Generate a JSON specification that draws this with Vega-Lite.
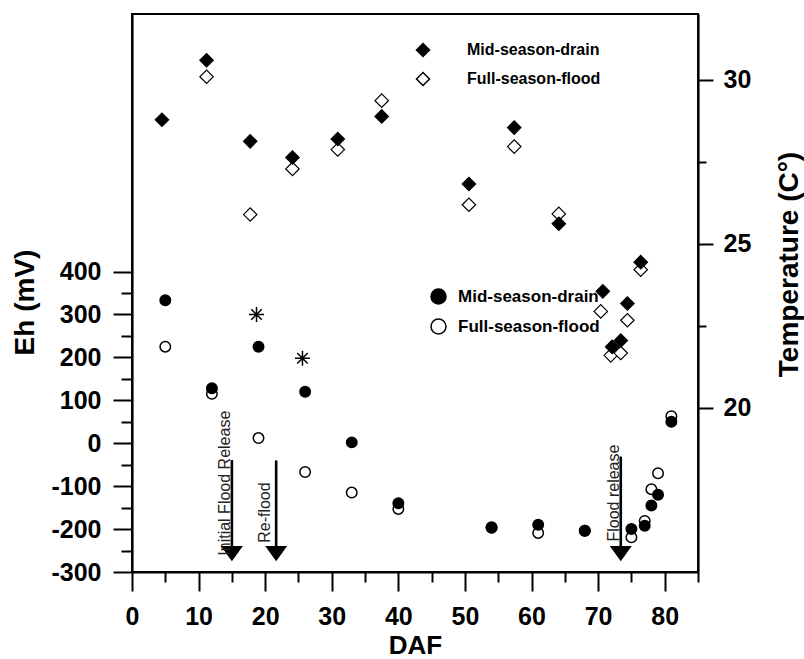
{
  "$schema": "https://vega.github.io/schema/vega-lite/v6.json",
  "width": 566,
  "height": 558,
  "autosize": {"type": "none"},
  "padding": {"left": 132, "top": 14, "right": 106, "bottom": 87},
  "background": "white",
  "config": {
    "view": {"stroke": "black", "strokeWidth": 2},
    "font": "Liberation Sans",
    "axis": {
      "domainColor": "black", "domainWidth": 2.2, "tickColor": "black", "tickWidth": 2,
      "labelFont": "Liberation Sans", "labelFontWeight": "bold", "labelFontSize": 25, "labelColor": "black",
      "titleFont": "Liberation Sans", "titleFontWeight": "bold", "titleFontSize": 28, "titleColor": "black",
      "grid": false, "labelOverlap": false, "labelFlush": false
    },
    "legend": {
      "labelFont": "Liberation Sans", "labelFontWeight": "bold", "labelColor": "black",
      "padding": 0, "rowPadding": 9, "symbolStrokeColor": "black", "symbolStrokeWidth": 1.5, "symbolOpacity": 1
    }
  },
  "datasets": {
    "eh": [
      {"DAF": 5, "Eh": 225, "series": "Full-season-flood"},
      {"DAF": 12, "Eh": 115, "series": "Full-season-flood"},
      {"DAF": 19, "Eh": 12, "series": "Full-season-flood"},
      {"DAF": 26, "Eh": -67, "series": "Full-season-flood"},
      {"DAF": 33, "Eh": -115, "series": "Full-season-flood"},
      {"DAF": 40, "Eh": -153, "series": "Full-season-flood"},
      {"DAF": 54, "Eh": -197, "series": "Full-season-flood"},
      {"DAF": 61, "Eh": -209, "series": "Full-season-flood"},
      {"DAF": 68, "Eh": -204, "series": "Full-season-flood"},
      {"DAF": 75, "Eh": -219, "series": "Full-season-flood"},
      {"DAF": 77, "Eh": -181, "series": "Full-season-flood"},
      {"DAF": 78, "Eh": -107, "series": "Full-season-flood"},
      {"DAF": 79, "Eh": -70, "series": "Full-season-flood"},
      {"DAF": 81, "Eh": 63, "series": "Full-season-flood"},
      {"DAF": 5, "Eh": 333, "series": "Mid-season-drain"},
      {"DAF": 12, "Eh": 128, "series": "Mid-season-drain"},
      {"DAF": 19, "Eh": 225, "series": "Mid-season-drain"},
      {"DAF": 26, "Eh": 120, "series": "Mid-season-drain"},
      {"DAF": 33, "Eh": 2, "series": "Mid-season-drain"},
      {"DAF": 40, "Eh": -140, "series": "Mid-season-drain"},
      {"DAF": 54, "Eh": -196, "series": "Mid-season-drain"},
      {"DAF": 61, "Eh": -190, "series": "Mid-season-drain"},
      {"DAF": 68, "Eh": -204, "series": "Mid-season-drain"},
      {"DAF": 75, "Eh": -200, "series": "Mid-season-drain"},
      {"DAF": 77, "Eh": -192, "series": "Mid-season-drain"},
      {"DAF": 78, "Eh": -145, "series": "Mid-season-drain"},
      {"DAF": 79, "Eh": -120, "series": "Mid-season-drain"},
      {"DAF": 81, "Eh": 50, "series": "Mid-season-drain"}
    ],
    "stars": [
      {"DAF": 18.7, "Eh": 300},
      {"DAF": 25.6, "Eh": 198}
    ],
    "shafts": [
      {"DAF": 15, "Eh": -39, "Eh2": -245},
      {"DAF": 21.65, "Eh": -40, "Eh2": -245},
      {"DAF": 73.4, "Eh": -31, "Eh2": -245}
    ],
    "heads": [
      {"DAF": 15, "Eh": -257},
      {"DAF": 21.65, "Eh": -257},
      {"DAF": 73.4, "Eh": -257}
    ],
    "notes": [
      {"DAF": 14.65, "Eh": -262, "label": "Initial Flood Release"},
      {"DAF": 20.75, "Eh": -232, "label": "Re-flood"},
      {"DAF": 73.15, "Eh": -229, "label": "Flood release"}
    ],
    "temp": [
      {"DAF": 11.2, "Temp": 30.09, "series": "Full-season-flood"},
      {"DAF": 17.75, "Temp": 25.89, "series": "Full-season-flood"},
      {"DAF": 24.1, "Temp": 27.28, "series": "Full-season-flood"},
      {"DAF": 30.9, "Temp": 27.87, "series": "Full-season-flood"},
      {"DAF": 37.5, "Temp": 29.36, "series": "Full-season-flood"},
      {"DAF": 50.6, "Temp": 26.19, "series": "Full-season-flood"},
      {"DAF": 57.4, "Temp": 27.96, "series": "Full-season-flood"},
      {"DAF": 64.1, "Temp": 25.91, "series": "Full-season-flood"},
      {"DAF": 70.4, "Temp": 22.94, "series": "Full-season-flood"},
      {"DAF": 71.9, "Temp": 21.6, "series": "Full-season-flood"},
      {"DAF": 73.4, "Temp": 21.67, "series": "Full-season-flood"},
      {"DAF": 74.4, "Temp": 22.67, "series": "Full-season-flood"},
      {"DAF": 76.4, "Temp": 24.21, "series": "Full-season-flood"},
      {"DAF": 4.5, "Temp": 28.78, "series": "Mid-season-drain"},
      {"DAF": 11.2, "Temp": 30.59, "series": "Mid-season-drain"},
      {"DAF": 17.75, "Temp": 28.12, "series": "Mid-season-drain"},
      {"DAF": 24.1, "Temp": 27.63, "series": "Mid-season-drain"},
      {"DAF": 30.9, "Temp": 28.19, "series": "Mid-season-drain"},
      {"DAF": 37.5, "Temp": 28.88, "series": "Mid-season-drain"},
      {"DAF": 50.6, "Temp": 26.82, "series": "Mid-season-drain"},
      {"DAF": 57.4, "Temp": 28.54, "series": "Mid-season-drain"},
      {"DAF": 64.1, "Temp": 25.61, "series": "Mid-season-drain"},
      {"DAF": 70.7, "Temp": 23.55, "series": "Mid-season-drain"},
      {"DAF": 72.1, "Temp": 21.86, "series": "Mid-season-drain"},
      {"DAF": 73.4, "Temp": 22.05, "series": "Mid-season-drain"},
      {"DAF": 74.4, "Temp": 23.18, "series": "Mid-season-drain"},
      {"DAF": 76.4, "Temp": 24.44, "series": "Mid-season-drain"}
    ]
  },
  "encoding": {
    "x": {
      "field": "DAF", "type": "quantitative",
      "scale": {"domain": [0, 85], "nice": false, "zero": false},
      "axis": {
        "values": [0, 5, 10, 15, 20, 25, 30, 35, 40, 45, 50, 55, 60, 65, 70, 75, 80, 85],
        "labelExpr": "datum.value % 10 === 0 ? '' + datum.value : ''",
        "tickSize": 19,
        "tickDash": {"condition": {"test": "datum.value % 10 !== 0", "value": [10, 40]}, "value": []},
        "labelPadding": 13,
        "title": "DAF", "titleFontSize": 26, "titleX": 283, "titleY": 81, "titleBaseline": "alphabetic", "titleAlign": "center"
      }
    }
  },
  "layer": [
    {
      "encoding": {
        "y": {
          "field": "Eh", "type": "quantitative",
          "scale": {"domain": [-300, 1000], "nice": false, "zero": false},
          "axis": {
            "values": [-300, -250, -200, -150, -100, -50, 0, 50, 100, 150, 200, 250, 300, 350, 400],
            "labelExpr": "datum.value % 100 === 0 ? '' + datum.value : ''",
            "tickSize": 19,
            "tickDash": {"condition": {"test": "datum.value % 100 !== 0", "value": [11, 40]}, "value": []},
            "labelPadding": 12,
            "title": "Eh (mV)", "titleAngle": 270, "titleX": -99, "titleY": 288,
            "titleBaseline": "alphabetic", "titleAlign": "center"
          }
        }
      },
      "layer": [
        {
          "data": {"name": "eh"},
          "mark": {"type": "point", "shape": "circle", "filled": true, "size": 110, "stroke": "black", "strokeWidth": 1.5, "opacity": 1},
          "encoding": {
            "fill": {
              "field": "series", "type": "nominal",
              "scale": {"domain": ["Mid-season-drain", "Full-season-flood"], "range": ["black", "white"]},
              "legend": {
                "title": null, "orient": "none", "legendX": 298, "legendY": 274,
                "symbolType": "circle", "symbolSize": 225, "labelOffset": 11, "labelFontSize": 17
              }
            }
          }
        },
        {
          "data": {"name": "stars"},
          "mark": {"type": "point", "shape": "M-1,0L1,0M0,-1L0,1M-0.7,-0.7L0.7,0.7M-0.7,0.7L0.7,-0.7", "size": 225, "stroke": "black", "strokeWidth": 1.5, "filled": false, "opacity": 1}
        },
        {
          "data": {"name": "shafts"},
          "mark": {"type": "rule", "color": "black", "strokeWidth": 2.6},
          "encoding": {"y2": {"field": "Eh2"}}
        },
        {
          "data": {"name": "heads"},
          "mark": {"type": "point", "shape": "M-1,-0.69L1,-0.69L0,0.69Z", "size": 484, "filled": true, "color": "black", "opacity": 1}
        },
        {
          "data": {"name": "notes"},
          "mark": {"type": "text", "angle": 270, "align": "left", "baseline": "alphabetic", "font": "Liberation Sans", "fontSize": 16, "color": "#222"},
          "encoding": {"text": {"field": "label"}}
        }
      ]
    },
    {
      "data": {"name": "temp"},
      "mark": {"type": "point", "shape": "diamond", "filled": true, "size": 180, "stroke": "black", "strokeWidth": 1.2, "opacity": 1},
      "encoding": {
        "y": {
          "field": "Temp", "type": "quantitative",
          "scale": {"domain": [15, 32], "nice": false, "zero": false},
          "axis": {
            "orient": "right",
            "values": [20, 22.5, 25, 27.5, 30],
            "labelExpr": "datum.value % 5 === 0 ? '' + datum.value : ''",
            "tickSize": 15,
            "tickDash": {"condition": {"test": "datum.value % 5 !== 0", "value": [8, 40]}, "value": []},
            "labelPadding": 10,
            "title": "Temperature (C°)", "titleAngle": 270, "titleX": 99, "titleY": 250,
            "titleBaseline": "alphabetic", "titleAlign": "center"
          }
        },
        "fill": {
          "field": "series", "type": "nominal",
          "scale": {"domain": ["Mid-season-drain", "Full-season-flood"], "range": ["black", "white"]},
          "legend": {
            "title": null, "orient": "none", "legendX": 283, "legendY": 28,
            "symbolType": "diamond", "symbolSize": 170, "labelOffset": 36, "labelFontSize": 16
          }
        }
      }
    }
  ],
  "resolve": {"scale": {"y": "independent", "fill": "independent"}}
}
